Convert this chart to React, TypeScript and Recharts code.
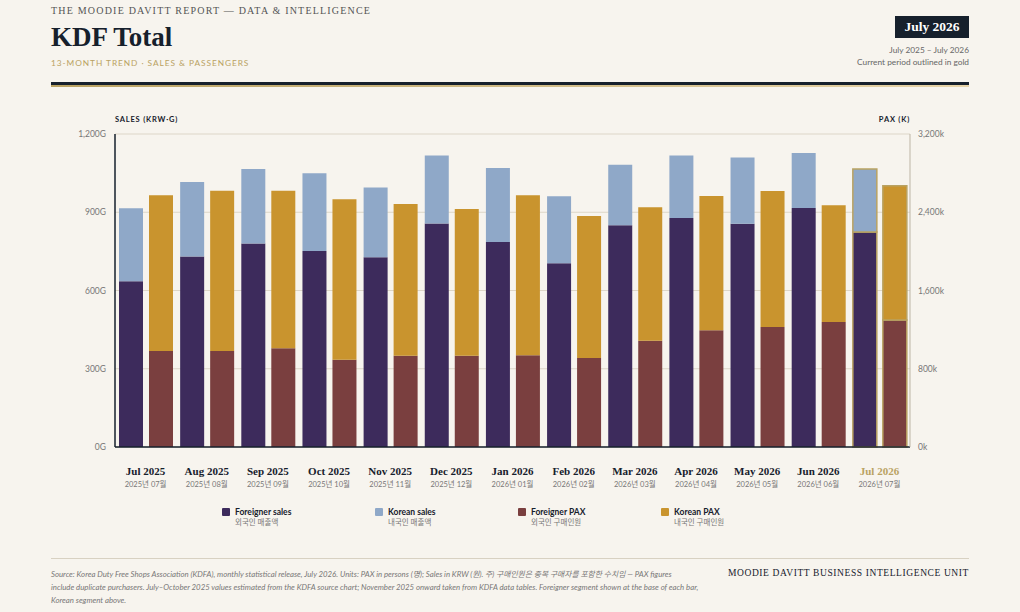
import React from "react";
import {
  BarChart,
  Bar,
  Cell,
  XAxis,
  YAxis,
  CartesianGrid,
} from "recharts";

// months shown on the x axis (English + Korean)
const months = [
  "Jul 2025", "Aug 2025", "Sep 2025", "Oct 2025", "Nov 2025", "Dec 2025",
  "Jan 2026", "Feb 2026", "Mar 2026", "Apr 2026", "May 2026", "Jun 2026", "Jul 2026",
];
const monthsKo = [
  "2025년 07월", "2025년 08월", "2025년 09월", "2025년 10월", "2025년 11월", "2025년 12월",
  "2026년 01월", "2026년 02월", "2026년 03월", "2026년 04월", "2026년 05월", "2026년 06월", "2026년 07월",
];

// sales in KRW billions (G)
const foreignerSales = [635, 730, 780, 751, 727, 857, 786, 704, 850, 878, 856, 916, 824];
const koreanSales = [280, 286, 286, 299, 268, 261, 284, 257, 232, 240, 254, 211, 242];

// passengers in thousands
const foreignerPax = [981, 981, 1009, 893, 934, 934, 937, 910, 1087, 1193, 1227, 1278, 1298];
const koreanPax = [1592, 1640, 1612, 1639, 1550, 1499, 1636, 1452, 1363, 1373, 1390, 1193, 1374];

const salesTicks = [0, 300, 600, 900, 1200];
const paxTicks = [0, 800, 1600, 2400, 3200];

const BG = "#f7f4ee";
const INK = "#16202c";
const GOLD = "#b9a262";
const C_FOR_SALES = "#3d2b5c";
const C_KOR_SALES = "#8fa8c8";
const C_FOR_PAX = "#7a3f3f";
const C_KOR_PAX = "#c9942e";

const SERIF = "'Liberation Serif', 'DejaVu Serif', serif";
const SANS = "Lato, 'Noto Sans CJK KR', sans-serif";

const current = months.length - 1;

const data = months.map((m, i) => ({
  month: m,
  foreignerSales: foreignerSales[i],
  koreanSales: koreanSales[i],
  foreignerPax: foreignerPax[i],
  koreanPax: koreanPax[i],
}));

const legendItems = [
  { label: "Foreigner sales", ko: "외국인 매출액", color: C_FOR_SALES, left: 222 },
  { label: "Korean sales", ko: "내국인 매출액", color: C_KOR_SALES, left: 375 },
  { label: "Foreigner PAX", ko: "외국인 구매인원", color: C_FOR_PAX, left: 518 },
  { label: "Korean PAX", ko: "내국인 구매인원", color: C_KOR_PAX, left: 661 },
];

const MonthTick = (props: any) => {
  const { x, y, payload } = props;
  const i = payload.index;
  const hl = i === current;
  return (
    <g transform={`translate(${x},${y})`}>
      <text
        y={20}
        textAnchor="middle"
        fontFamily={SERIF}
        fontWeight={700}
        fontSize={11}
        fill={hl ? GOLD : INK}
      >
        {payload.value}
      </text>
      <text y={32} textAnchor="middle" fontFamily={SANS} fontSize={7.5} fill="#777">
        {monthsKo[i]}
      </text>
    </g>
  );
};

const fmtSales = (v: number) => `${v.toLocaleString("en-US")}G`;
const fmtPax = (v: number) => `${v.toLocaleString("en-US")}k`;

const hlStroke = (i: number) =>
  i === current ? { stroke: GOLD, strokeWidth: 1.5 } : {};

export default function App() {
  return (
    <div
      style={{
        position: "absolute",
        left: 0,
        top: 0,
        width: 1020,
        height: 612,
        background: BG,
        overflow: "hidden",
        fontFamily: SANS,
      }}
    >
      {/* header */}
      <div
        style={{
          position: "absolute",
          left: 51,
          top: 5,
          fontFamily: SERIF,
          fontSize: 10,
          letterSpacing: 1.2,
          color: "#555",
          whiteSpace: "nowrap",
        }}
      >
        THE MOODIE DAVITT REPORT — DATA &amp; INTELLIGENCE
      </div>
      <div
        style={{
          position: "absolute",
          left: 51,
          top: 22,
          fontFamily: SERIF,
          fontWeight: 700,
          fontSize: 27,
          color: INK,
          whiteSpace: "nowrap",
        }}
      >
        KDF Total
      </div>
      <div
        style={{
          position: "absolute",
          left: 51,
          top: 58,
          fontSize: 8.3,
          letterSpacing: 0.95,
          color: GOLD,
          whiteSpace: "nowrap",
        }}
      >
        13-MONTH TREND · SALES &amp; PASSENGERS
      </div>
      <div
        style={{
          position: "absolute",
          left: 895,
          top: 16,
          width: 74,
          height: 22,
          background: INK,
          color: "#fff",
          fontFamily: SERIF,
          fontWeight: 700,
          fontSize: 13.5,
          textAlign: "center",
          lineHeight: "22px",
        }}
      >
        July 2026
      </div>
      <div
        style={{
          position: "absolute",
          right: 51,
          top: 44,
          fontSize: 8.3,
          lineHeight: "12px",
          color: "#666",
          textAlign: "right",
          whiteSpace: "nowrap",
        }}
      >
        July 2025 – July 2026
        <br />
        Current period outlined in gold
      </div>
      <div style={{ position: "absolute", left: 51, top: 82, width: 918, height: 2.5, background: INK }} />
      <div
        style={{
          position: "absolute",
          left: 51,
          top: 84.5,
          width: 918,
          height: 2,
          background: "linear-gradient(90deg, #b9a262, #e6d3a8)",
        }}
      />

      {/* axis titles */}
      <div
        style={{
          position: "absolute",
          left: 115,
          top: 115,
          fontSize: 7.5,
          fontWeight: 700,
          letterSpacing: 0.8,
          color: INK,
          whiteSpace: "nowrap",
        }}
      >
        SALES (KRW·G)
      </div>
      <div
        style={{
          position: "absolute",
          right: 110,
          top: 115,
          fontSize: 7.5,
          fontWeight: 700,
          letterSpacing: 0.8,
          color: INK,
          whiteSpace: "nowrap",
        }}
      >
        PAX (K)
      </div>

      {/* chart */}
      <div style={{ position: "absolute", left: 0, top: 0 }}>
        <BarChart
          width={1020}
          height={612}
          data={data}
          margin={{ top: 134, right: 50, bottom: 125, left: 55 }}
          barCategoryGap={4}
          barGap={6}
        >
          <CartesianGrid
            yAxisId="sales"
            vertical={false}
            stroke="#ddd6c8"
            strokeWidth={1}
          />
          <XAxis
            dataKey="month"
            height={40}
            tickLine={false}
            axisLine={{ stroke: INK, strokeWidth: 1.5 }}
            interval={0}
            tick={<MonthTick />}
          />
          <YAxis
            yAxisId="sales"
            orientation="left"
            width={60}
            domain={[0, 1200]}
            ticks={salesTicks}
            tickFormatter={fmtSales}
            tickLine={false}
            tickSize={0}
            tickMargin={9}
            axisLine={{ stroke: INK, strokeWidth: 1.5 }}
            tick={{ fontSize: 8.5, fill: "#777", fontFamily: SANS }}
          />
          <YAxis
            yAxisId="pax"
            orientation="right"
            width={60}
            domain={[0, 3200]}
            ticks={paxTicks}
            tickFormatter={fmtPax}
            tickLine={false}
            tickSize={0}
            tickMargin={8}
            axisLine={{ stroke: "#bdb5a5", strokeWidth: 1 }}
            tick={{ fontSize: 8.5, fill: "#777", fontFamily: SANS, textAnchor: "start" }}
          />
          <Bar dataKey="foreignerSales" stackId="sales" yAxisId="sales" fill={C_FOR_SALES} isAnimationActive={false}>
            {data.map((_, i) => (
              <Cell key={`fs-${i}`} fill={C_FOR_SALES} {...hlStroke(i)} />
            ))}
          </Bar>
          <Bar dataKey="koreanSales" stackId="sales" yAxisId="sales" fill={C_KOR_SALES} isAnimationActive={false}>
            {data.map((_, i) => (
              <Cell key={`ks-${i}`} fill={C_KOR_SALES} {...hlStroke(i)} />
            ))}
          </Bar>
          <Bar dataKey="foreignerPax" stackId="pax" yAxisId="pax" fill={C_FOR_PAX} isAnimationActive={false}>
            {data.map((_, i) => (
              <Cell key={`fp-${i}`} fill={C_FOR_PAX} {...hlStroke(i)} />
            ))}
          </Bar>
          <Bar dataKey="koreanPax" stackId="pax" yAxisId="pax" fill={C_KOR_PAX} isAnimationActive={false}>
            {data.map((_, i) => (
              <Cell key={`kp-${i}`} fill={C_KOR_PAX} {...hlStroke(i)} />
            ))}
          </Bar>
        </BarChart>
      </div>

      {/* legend */}
      {legendItems.map((it) => (
        <div key={it.label} style={{ position: "absolute", left: it.left, top: 507, whiteSpace: "nowrap" }}>
          <div
            style={{
              position: "absolute",
              left: 0,
              top: 1,
              width: 8,
              height: 8,
              background: it.color,
              borderRadius: 1,
            }}
          />
          <div style={{ position: "absolute", left: 13, top: 0, fontSize: 8.5, fontWeight: 700, color: INK, lineHeight: "10px" }}>
            {it.label}
          </div>
          <div style={{ position: "absolute", left: 13, top: 11, fontSize: 7.5, color: "#777", lineHeight: "10px" }}>
            {it.ko}
          </div>
        </div>
      ))}

      {/* footer */}
      <div style={{ position: "absolute", left: 51, top: 558, width: 918, height: 1, background: "#d8d1c2" }} />
      <div
        style={{
          position: "absolute",
          left: 51,
          top: 568,
          fontSize: 7.8,
          fontStyle: "italic",
          color: "#777",
          lineHeight: "13px",
          whiteSpace: "nowrap",
        }}
      >
        Source: Korea Duty Free Shops Association (KDFA), monthly statistical release, July 2026. Units: PAX in persons (명); Sales in KRW (원). 주) 구매인원은 중복 구매자를 포함한 수치임 — PAX figures
        <br />
        include duplicate purchasers. July–October 2025 values estimated from the KDFA source chart; November 2025 onward taken from KDFA data tables. Foreigner segment shown at the base of each bar,
        <br />
        Korean segment above.
      </div>
      <div
        style={{
          position: "absolute",
          right: 51,
          top: 568,
          fontFamily: SERIF,
          fontSize: 9.5,
          letterSpacing: 0.6,
          color: INK,
          whiteSpace: "nowrap",
        }}
      >
        MOODIE DAVITT BUSINESS INTELLIGENCE UNIT
      </div>
    </div>
  );
}
